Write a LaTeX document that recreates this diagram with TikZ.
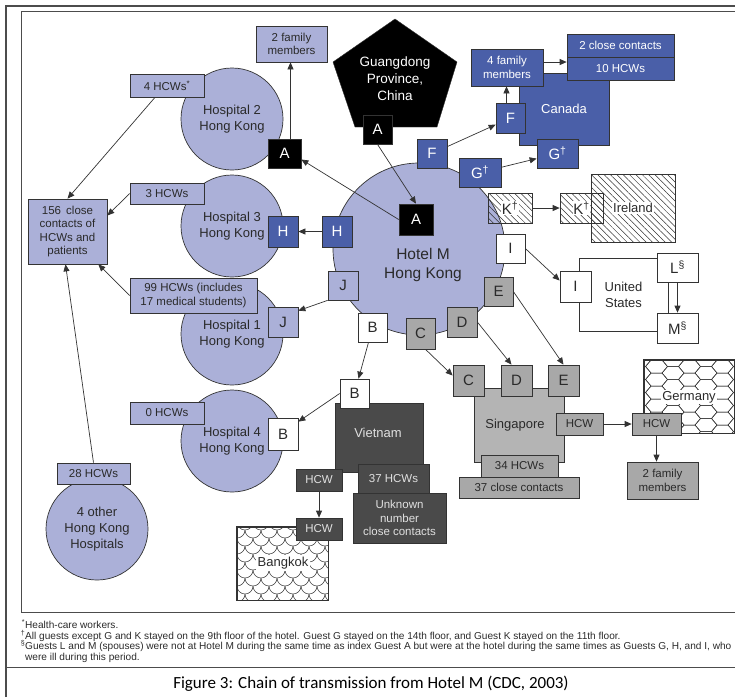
\documentclass[tikz,border=0pt]{standalone}
\usepackage{fontspec}
\setmainfont{Liberation Sans}
\newfontfamily\capfont{Carlito}
\usetikzlibrary{arrows.meta,patterns.meta}
\definecolor{lav}{HTML}{ABB0D8}
\definecolor{cblue}{HTML}{4A5FA8}
\definecolor{lgrey}{HTML}{B4B4B4}
\definecolor{mgrey}{HTML}{A8A8A8}
\definecolor{dgrey}{HTML}{4A4A4A}
\definecolor{lc}{HTML}{333333}
\definecolor{txt}{HTML}{2A2A2A}
\begin{document}
\begin{tikzpicture}[x=1pt,y=-1pt,
  bx/.style={draw=lc,line width=0.7pt,inner sep=0pt,align=center,text=txt},
  sz/.style 2 args={minimum width=#1pt,minimum height=#2pt},
  lavb/.style={bx,fill=lav},
  blueb/.style={bx,fill=cblue,text=white},
  blackb/.style={bx,fill=black,text=white},
  whiteb/.style={bx,fill=white},
  greyb/.style={bx,fill=mgrey},
  lgreyb/.style={bx,fill=lgrey},
  darkb/.style={bx,fill=dgrey,text=white!88!black},
  circ/.style={circle,draw=lc,line width=0.7pt,fill=lav,minimum size=102pt,inner sep=0pt,align=center,text=txt},
  lbl/.style={font=\fontsize{11.5}{13.5}\selectfont},
  reg/.style={font=\fontsize{13}{16}\selectfont},
  letr/.style={font=\fontsize{15}{17}\selectfont},
  hatch/.style={pattern={Lines[angle=-45,distance=4.5pt,line width=0.5pt]},pattern color=lc},
  arr/.style={draw=lc,line width=0.7pt,-{Triangle[length=7pt,width=6pt]}},
  fn/.style={font=\fontsize{10.1}{11}\selectfont,inner sep=0pt,text=txt,anchor=base west},
  pat/.style={draw=lc,line width=0.5pt}]
\useasboundingbox (0,0) rectangle (735,697);
\begin{scope}
\clip (0,0) rectangle (735,697);
% frames
\draw[line width=1.2pt,draw=black!70] (6,697) -- (6,6) -- (735,6);
\draw[line width=0.8pt,draw=black!70] (735,11) -- (21,11) -- (21,612) -- (735,612);
\draw[line width=1pt,draw=black!70] (6,667) -- (735,667);

% circles
\node[circ,minimum size=172pt] (hotel) at (419,249) {};
\node[circ,reg] (h2c) at (232,119) {Hospital 2\\Hong Kong};
\node[circ,reg] (h3c) at (232,226) {Hospital 3\\Hong Kong};
\node[circ,reg] (h1c) at (232,334) {Hospital 1\\Hong Kong};
\node[circ,reg] (h4c) at (232,441) {Hospital 4\\Hong Kong};
\node[circ,reg] (o4c) at (97,529) {4 other\\Hong Kong\\Hospitals};
\node[font=\fontsize{15.5}{19}\selectfont,align=center,text=txt] (hotelt) at (423,265) {Hotel M\\Hong Kong};

% Guangdong
\draw[fill=black,draw=lc] (395,19) -- (457,62) -- (437,127) -- (355,127) -- (333,62) -- cycle;
\node[font=\fontsize{13.5}{17}\selectfont,align=center,text=white] (gd) at (395,79) {Guangdong\\Province,\\China};

% lavender boxes
\node[lavb,lbl,sz={71}{36}] (fam2) at (291.5,44) {2 family\\members};
\node[lavb,lbl,sz={74}{23}] (hcw4) at (167,85.5) {4 HCWs\textsuperscript{*}};
\node[lavb,lbl,sz={74}{21}] (hcw3) at (167,193.5) {3 HCWs};
\node[lavb,lbl,sz={79}{65}] (c156) at (67.5,231.5) {156 \,close\\contacts of\\HCWs and\\patients};
\node[lavb,lbl,sz={127}{35}] (hcw99) at (193.5,295.5) {99 HCWs (includes\\17 medical students)};
\node[lavb,lbl,sz={74}{22}] (hcw0) at (167,413) {0 HCWs};
\node[lavb,lbl,sz={73}{21}] (hcw28) at (93.5,473.5) {28 HCWs};

% Canada
\node[blueb,reg,sz={90}{72}] (can) at (564,109) {Canada};
\node[blueb,lbl,sz={72}{37}] (fam4) at (507,67.5) {4 family\\members};
\node[blueb,lbl,sz={107}{23}] (cc2) at (620.5,45.5) {2 close contacts};
\node[blueb,lbl,sz={107}{23}] (hcw10) at (620.5,68.5) {10 HCWs};
\node[blueb,letr,sz={29}{30}] (fC) at (510.5,118) {F};
\node[blueb,letr,sz={41}{29}] (gC) at (557.5,153.5) {G\textsuperscript{†}};

% Ireland
\node[bx,hatch,sz={84}{68}] (irl) at (633,208) {};
\node[reg,fill=white,inner sep=1.5pt,text=txt] (irlt) at (633,208) {Ireland};
\node[bx,hatch,sz={43}{30}] (kI) at (581.5,208) {};
\node[letr,fill=white,inner sep=0.6pt,text=txt] (kIt) at (581.5,208) {K\textsuperscript{†}};

% United States
\node[whiteb,reg,sz={89}{73}] (us) at (623.5,294.5) {United\\States};
\node[whiteb,letr,sz={31}{31}] (iU) at (575.5,286.5) {I};
\node[whiteb,letr,sz={41}{29}] (lU) at (677.5,267.5) {L\textsuperscript{§}};
\node[whiteb,letr,sz={41}{30}] (mU) at (677.5,328) {M\textsuperscript{§}};

% Singapore
\node[lgreyb,reg,sz={90}{74}] (sing) at (519,425) {Singapore\hspace*{8pt}};
\node[greyb,letr,sz={31}{31}] (cS) at (468.5,380.5) {C};
\node[greyb,letr,sz={31}{31}] (dS) at (516.5,380.5) {D};
\node[greyb,letr,sz={31}{31}] (eS) at (563.5,380.5) {E};
\node[greyb,lbl,sz={47}{22}] (hcwS) at (579.5,424) {HCW};
\node[greyb,lbl,sz={77}{22}] (hcw34) at (519.5,466) {34 HCWs};
\node[greyb,lbl,sz={120}{21}] (cc37) at (519,487.5) {37 close contacts};

% Germany
\node[bx,fill=white,sz={90}{73}] (ger) at (689,396.5) {};
\begin{scope}
\clip (644,360) rectangle (734,433);
\foreach \i in {0,...,7}{\foreach \j in {-1,...,6}{
  \pgfmathsetmacro\cx{640+16.5*\i}
  \pgfmathsetmacro\cy{360+13*\j+6.5*mod(\i,2)}
  \draw[pat] (\cx-11,\cy) -- (\cx-5.5,\cy-6.5) -- (\cx+5.5,\cy-6.5) -- (\cx+11,\cy) -- (\cx+5.5,\cy+6.5) -- (\cx-5.5,\cy+6.5) -- cycle;
}}
\end{scope}
\draw[draw=lc,line width=0.7pt] (ger.north west) rectangle (ger.south east);
\node[reg,fill=white,inner sep=1.5pt,text=txt] (gert) at (689,397) {Germany};
\node[greyb,lbl,sz={49}{22}] (hcwG) at (656.5,424) {HCW};
\node[greyb,lbl,sz={71}{37}] (fam2G) at (662.5,480.5) {2 family\\members};

% Vietnam
\node[darkb,sz={88}{69}] (viet) at (379,437.5) {};
\node[reg,text=white!88!black] (viett) at (378,433) {Vietnam};
\node[whiteb,letr,sz={29}{29}] (bV) at (354.5,393.5) {B};
\node[darkb,lbl,sz={46}{22}] (hcwV1) at (319,480) {HCW};
\node[darkb,lbl,sz={71}{29}] (hcw37) at (393.5,478.5) {37 HCWs};
\node[darkb,lbl,sz={93}{50}] (unk) at (399.5,518) {Unknown\\number\\close contacts};

% Bangkok
\node[bx,fill=white,sz={91}{73}] (bkk) at (282.5,563.5) {};
\begin{scope}
\clip (237,527) rectangle (328,600);
\foreach \j in {0,...,10}{\foreach \k in {0,...,7}{
  \pgfmathsetmacro\cx{229+16*\k+8*mod(\j,2)}
  \pgfmathsetmacro\cy{522+8*\j}
  \draw[pat] (\cx-8,\cy) arc[start angle=180,end angle=360,radius=8pt];
}}
\end{scope}
\draw[draw=lc,line width=0.7pt] (bkk.north west) rectangle (bkk.south east);
\node[reg,fill=white,inner sep=1.5pt,text=txt] (bkkt) at (283,563) {Bangkok};
\node[darkb,lbl,sz={46}{22}] (hcwV2) at (319,529) {HCW};

% letter boxes at hospitals and hotel
\node[blackb,letr,sz={33}{29}] (a2) at (284.5,153.5) {A};
\node[blackb,letr,sz={34}{31}] (aH) at (416,219.5) {A};
\node[blackb,letr,sz={29}{29}] (aG) at (377.5,129.5) {A};
\node[blueb,letr,sz={30}{31}] (hh3) at (283,231.5) {H};
\node[blueb,letr,sz={30}{31}] (hH) at (337,231.5) {H};
\node[blueb,letr,sz={30}{29}] (fH) at (432,153.5) {F};
\node[blueb,letr,sz={42}{29}] (gH) at (480,172.5) {G\textsuperscript{†}};
\node[bx,hatch,sz={44}{30}] (kH) at (510,208) {};
\node[letr,fill=white,inner sep=0.6pt,text=txt] (kHt) at (510,208) {K\textsuperscript{†}};
\node[whiteb,letr,sz={29}{29}] (iH) at (510.5,248.5) {I};
\node[greyb,letr,sz={29}{29}] (eH) at (498.5,291.5) {E};
\node[greyb,letr,sz={30}{30}] (dH) at (462,322) {D};
\node[greyb,letr,sz={29}{31}] (cH) at (420.5,333.5) {C};
\node[whiteb,letr,sz={29}{29}] (bH) at (372.5,327.5) {B};
\node[lavb,letr,sz={30}{29}] (jH) at (343,285.5) {J};
\node[lavb,letr,sz={30}{30}] (jh1) at (283,322) {J};
\node[whiteb,letr,sz={30}{32}] (bh4) at (283,434) {B};

% arrows
\draw[arr] (aG.south) -- (aH.north);
\draw[arr] (aH.west) -- ([yshift=-6pt]a2.east);
\draw[arr] ([xshift=6pt]a2.north) -- ([xshift=6pt]a2.north |- fam2.south);
\draw[arr] (hH.west) -- (hh3.east);
\draw[arr] (jH.south west) -- ([yshift=-4pt]jh1.north east);
\draw[arr] ([xshift=-4pt]bH.south) -- ([xshift=4pt]bV.north);
\draw[arr] (bV.west) -- ([yshift=-4pt]bh4.north east);
\draw[arr] ([xshift=5pt]cH.south) -- ([yshift=5pt]cS.west);
\draw[arr] (dH.east) -- ([xshift=-5pt]dS.north);
\draw[arr] (eH.east) -- (eS.north);
\draw[arr] (fH) -- (fC);
\draw[arr] (gH) -- (gC);
\draw[arr] (kH) -- (kI);
\draw[arr] (iH.east) -- ([yshift=6pt]iU.west);
\draw[arr] (lU) -- (mU);
\draw[arr] ([xshift=-4pt]fC.north) -- ([xshift=-4pt]fC.north |- fam4.south);
\draw[arr] ([yshift=5.5pt]fam4.east) -- ([yshift=5.5pt]fam4.east -| hcw10.west);
\draw[arr] (hcwS) -- (hcwG);
\draw[arr] (hcwG.south) -- (hcwG.south |- fam2G.north);
\draw[arr] (hcwV1) -- (hcwV2);
\draw[arr] ([xshift=-12pt]hcw4.south) -- (c156.north);
\draw[arr] (hcw3.west) -- ([yshift=16pt]c156.east);
\draw[arr] (hcw99.west) -- ([xshift=-9pt]c156.south east);
\draw[arr] (hcw28.north) -- ([xshift=-2pt]c156.south);

% footnotes
\node[fn] (fn1) at (25,628) {\llap{\textsuperscript{*}}Health-care workers.};
\node[fn] (fn2) at (25,639) {\llap{\textsuperscript{†}}All guests except G and K stayed on the 9th floor of the hotel. Guest G stayed on the 14th floor, and Guest K stayed on the 11th floor.};
\node[fn] (fn3) at (25,649.5) {\llap{\textsuperscript{§}}Guests L and M (spouses) were not at Hotel M during the same time as index Guest A but were at the hotel during the same times as Guests G, H, and I, who};
\node[fn] (fn4) at (25,660) {were ill during this period.};
\node[font=\capfont\fontsize{17}{20}\selectfont,text=black] (cap) at (371,684) {Figure 3: Chain of transmission from Hotel M (CDC, 2003)};
\end{scope}
\end{tikzpicture}
\end{document}
